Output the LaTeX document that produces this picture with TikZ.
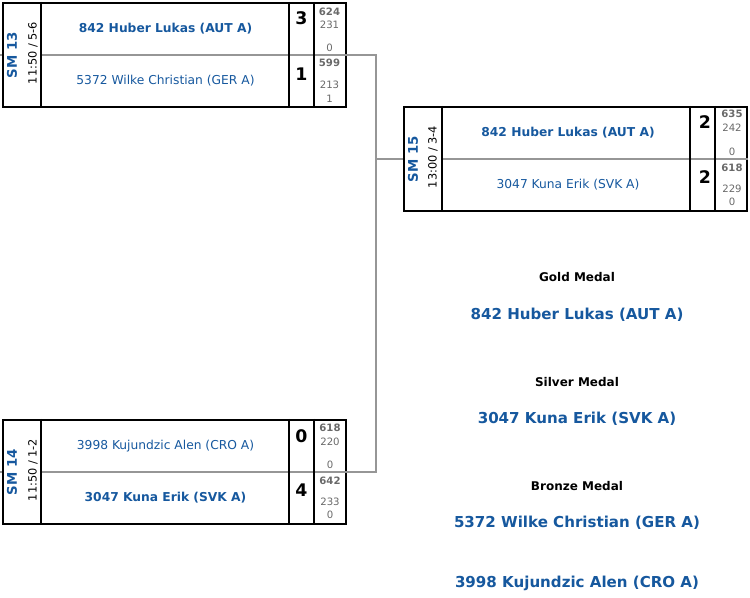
\documentclass[tikz,border=0pt]{standalone}
\usepackage{fontspec}
\setmainfont{DejaVu Sans}
\usetikzlibrary{calc}
\definecolor{teamblue}{RGB}{22,88,158}
\definecolor{ptgray}{RGB}{105,105,105}
\definecolor{linkgray}{RGB}{150,150,150}
\tikzset{
  matchbox/.style={draw, line width=1.8pt, minimum width=257.25pt, minimum height=78pt, inner sep=0pt},
  divider/.style={line width=1.8pt},
  rowline/.style={draw=linkgray, line width=0.8pt},
  link/.style={draw=linkgray, line width=1pt},
  smlabel/.style={rotate=90, text=teamblue, font=\fontsize{10}{10}\selectfont\bfseries},
  when/.style={rotate=90, font=\fontsize{8.5}{9}\selectfont},
  winner/.style={text=teamblue, font=\fontsize{9.2}{10}\selectfont\bfseries},
  loser/.style={text=teamblue, font=\fontsize{9.2}{10}\selectfont},
  sets/.style={font=\fontsize{13}{13}\selectfont\bfseries},
  ptsum/.style={text=ptgray, font=\fontsize{7.6}{8}\selectfont\bfseries},
  ptsub/.style={text=ptgray, font=\fontsize{7.6}{8}\selectfont},
  medal/.style={font=\fontsize{9}{10}\selectfont\bfseries},
  medalist/.style={text=teamblue, font=\fontsize{11.3}{12}\selectfont\bfseries}
}
\begin{document}
\begin{tikzpicture}[x=0.75pt,y=0.75pt,yscale=-1]
\useasboundingbox (0,0) rectangle (750,597);

%Match boxes
\node[matchbox] (sm13) at (174.5,55) {};
\node[matchbox] (sm14) at (174.5,472) {};
\node[matchbox] (sm15) at (575.5,159) {};

%Connector
\coordinate (join) at (376,159);
\draw[link] (sm13.east) -| (join) |- (sm14.east);
\draw[link] (join) -- (sm15.west);
\draw[rowline] (sm13.west) -- +(-3,0);
\draw[rowline] (sm14.west) -- +(-3,0);

%Rows and columns
\foreach \m in {sm13,sm14,sm15}{
  \draw[rowline] ($(\m.west)+(39,0)$) -- (\m.east);
  \foreach \dx in {39,287,312}
    \draw[divider] ($(\m.north west)+(\dx,0)$) -- ($(\m.south west)+(\dx,0)$);
}

% Text Node
\node[smlabel] (sm13lbl) at (12,55) {SM 13};
\node[when] (sm13time) at (33,53) {11:50 / 5-6};
\node[winner] (sm13a) at (165.5,29) {842 Huber Lukas (AUT A)};
\node[loser] (sm13b) at (165.5,81) {5372 Wilke Christian (GER A)};
\node[sets] (sm13sa) at (301.5,18) {3};
\node[sets] (sm13sb) at (301.5,74) {1};
\node[ptsum] (sm13pa) at (329.5,12) {624};
\node[ptsub] (sm13qa) at (329.5,25) {231};
\node[ptsub] (sm13ra) at (329.5,48) {0};
\node[ptsum] (sm13pb) at (329.5,63) {599};
\node[ptsub] (sm13qb) at (329.5,85) {213};
\node[ptsub] (sm13rb) at (329.5,99) {1};

% Text Node
\node[smlabel] (sm14lbl) at (12,472) {SM 14};
\node[when] (sm14time) at (33,470) {11:50 / 1-2};
\node[loser] (sm14a) at (165.5,446) {3998 Kujundzic Alen (CRO A)};
\node[winner] (sm14b) at (165.5,498) {3047 Kuna Erik (SVK A)};
\node[sets] (sm14sa) at (301.5,436) {0};
\node[sets] (sm14sb) at (301.5,490) {4};
\node[ptsum] (sm14pa) at (330,428) {618};
\node[ptsub] (sm14qa) at (330,442) {220};
\node[ptsub] (sm14ra) at (330,465) {0};
\node[ptsum] (sm14pb) at (330,481) {642};
\node[ptsub] (sm14qb) at (330,502) {233};
\node[ptsub] (sm14rb) at (330,515) {0};

% Text Node
\node[smlabel] (sm15lbl) at (413,159) {SM 15};
\node[when] (sm15time) at (433,157) {13:00 / 3-4};
\node[winner] (sm15a) at (568,133) {842 Huber Lukas (AUT A)};
\node[loser] (sm15b) at (568,185) {3047 Kuna Erik (SVK A)};
\node[sets] (sm15sa) at (705,122) {2};
\node[sets] (sm15sb) at (705,177) {2};
\node[ptsum] (sm15pa) at (732,114) {635};
\node[ptsub] (sm15qa) at (732,128) {242};
\node[ptsub] (sm15ra) at (732,152) {0};
\node[ptsum] (sm15pb) at (732,168) {618};
\node[ptsub] (sm15qb) at (732,189) {229};
\node[ptsub] (sm15rb) at (732,202) {0};

%Medals
\node[medal] (gold) at (577,277) {Gold Medal};
\node[medalist] (goldname) at (577,315) {842 Huber Lukas (AUT A)};
\node[medal] (silver) at (577,382) {Silver Medal};
\node[medalist] (silvername) at (577,419) {3047 Kuna Erik (SVK A)};
\node[medal] (bronze) at (577,486) {Bronze Medal};
\node[medalist] (bronzea) at (577,523) {5372 Wilke Christian (GER A)};
\node[medalist] (bronzeb) at (577,583) {3998 Kujundzic Alen (CRO A)};

\end{tikzpicture}
\end{document}
